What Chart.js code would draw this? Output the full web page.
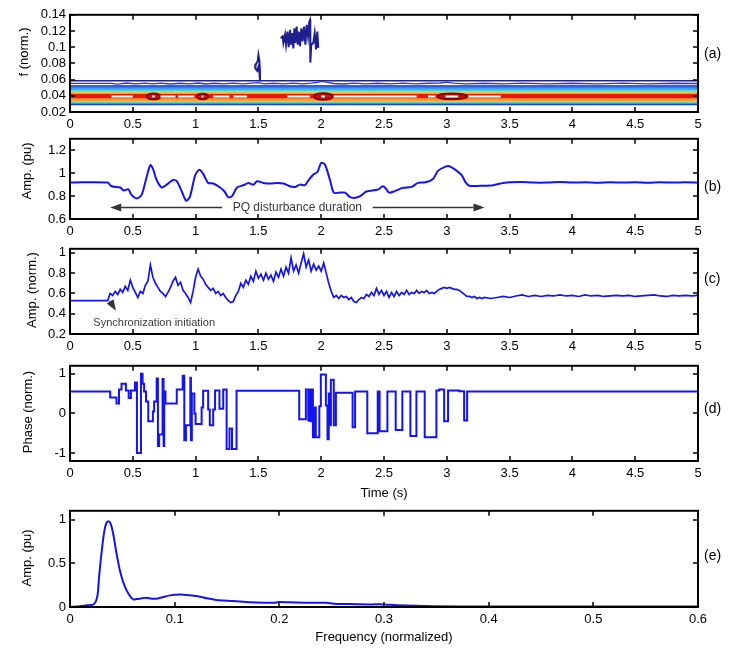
<!DOCTYPE html>
<html>
<head>
<meta charset="utf-8">
<title>PQ disturbance analysis</title>
<script src="https://cdn.jsdelivr.net/npm/chart.js@4.4.1/dist/chart.umd.min.js"></script>
<style>
  body { margin: 0; background: #fff; }
  #fig { position: relative; width: 737px; height: 648px; overflow: hidden; font-family: "Liberation Sans", Arial, sans-serif; color: #000; }
  #fig canvas { position: absolute; left: 0; }
  .tag { position: absolute; left: 704px; font-size: 14px; transform: translateY(-50%); }
  .ylab { position: absolute; font-size: 13px; white-space: nowrap; transform: translate(-50%, -50%) rotate(-90deg); }
</style>
</head>
<body>
<div id="fig">
  <canvas id="chartA" width="737" height="137" style="top:3px"></canvas>
  <canvas id="chartB" width="737" height="120" style="top:127px"></canvas>
  <canvas id="chartC" width="737" height="125" style="top:237px"></canvas>
  <canvas id="chartD" width="737" height="152" style="top:354px"></canvas>
  <canvas id="chartE" width="737" height="148" style="top:499px"></canvas>

  <div class="ylab" style="left:23px; top:52px">f (norm.)</div>
  <div class="ylab" style="left:26px; top:171px">Amp. (pu)</div>
  <div class="ylab" style="left:31px; top:290px">Amp. (norm.)</div>
  <div class="ylab" style="left:27px; top:412px">Phase (norm.)</div>
  <div class="ylab" style="left:26px; top:558px">Amp. (pu)</div>

  <div class="tag" style="top:53px">(a)</div>
  <div class="tag" style="top:186px">(b)</div>
  <div class="tag" style="top:278px">(c)</div>
  <div class="tag" style="top:408px">(d)</div>
  <div class="tag" style="top:555px">(e)</div>
</div>

<script>
const FONT = '"Liberation Sans", Arial, Helvetica, sans-serif';
Chart.defaults.font.family = FONT;
Chart.defaults.font.size = 13;
Chart.defaults.color = '#000';

// ---- tick labels ----
const timeTicks = [0, 0.5, 1, 1.5, 2, 2.5, 3, 3.5, 4, 4.5, 5];
const freqTicks = [0, 0.1, 0.2, 0.3, 0.4, 0.5, 0.6];
const aTicks = [0.02, 0.04, 0.06, 0.08, 0.1, 0.12, 0.14];
const bTicks = [0.6, 0.8, 1, 1.2];
const cTicks = [0.2, 0.4, 0.6, 0.8, 1];
const dTicks = [-1, 0, 1];
const eTicks = [0, 0.5, 1];

// ---- (a) time-frequency contour ----
const aLevels = [0.0585, 0.0518, 0.0492, 0.0474, 0.0462, 0.0452, 0.0442, 0.0352, 0.0343, 0.0334, 0.0324, 0.0314, 0.0304, 0.0293];
const aLevelColors = ['#23238c', '#2f5fe4', '#3c9cf0', '#3cd2e6', '#86e07a', '#f0e43c', '#f7a030',
  '#f7a030', '#f0e43c', '#86e07a', '#3cd2e6', '#3c9cf0', '#2f5fe4', '#23238c'];
const aLevelWidths = [1.5, 2.5, 2.5, 2, 2, 2, 3, 3, 2, 2, 2, 2, 2, 1.5];
const aRidge = 0.0396;
const aCentre = 0.0392;
const aWhiteSegs = [[0.33, 0.50], [0.72, 0.84], [0.86, 0.99], [1.14, 1.27], [1.30, 1.41], [1.73, 1.91],
  [2.10, 2.76], [2.85, 2.91], [3.17, 3.43], [0.655, 0.675], [1.048, 1.062], [2.0, 2.03], [2.99, 3.09]];
const aWaveT = [0, 0.33, 0.38, 0.45, 0.52, 0.60, 0.66, 0.72, 0.80, 0.88, 0.95, 1.02, 1.08, 1.15, 1.22, 1.30, 1.38,
  1.45, 1.50, 1.55, 1.62, 1.70, 1.78, 1.85, 1.92, 1.97, 2.01, 2.05, 2.10, 2.18, 2.26, 2.35, 2.45, 2.55, 2.65, 2.75,
  2.85, 2.95, 3.00, 3.05, 3.15, 3.3, 3.45, 3.6, 3.8, 4.0, 4.2, 4.4, 4.6, 4.8, 5.0];
const aWaveF = [0.0553, 0.0553, 0.0545, 0.0558, 0.0547, 0.0556, 0.0548, 0.0557, 0.0546, 0.0555, 0.0547, 0.0558,
  0.0546, 0.0555, 0.0548, 0.0556, 0.0547, 0.0556, 0.0562, 0.0548, 0.0555, 0.0547, 0.0556, 0.0548, 0.0557, 0.0566,
  0.0578, 0.0565, 0.0552, 0.0546, 0.0556, 0.0547, 0.0555, 0.0548, 0.0556, 0.0547, 0.0555, 0.0558, 0.0568, 0.0556,
  0.0547, 0.0555, 0.0548, 0.0556, 0.0547, 0.0555, 0.0548, 0.0556, 0.0548, 0.0555, 0.0552];
const aRings = [
  [[0.61, 0.0392], [0.625, 0.0418], [0.665, 0.0428], [0.705, 0.0418], [0.72, 0.0392], [0.705, 0.0366], [0.665, 0.0356], [0.625, 0.0366], [0.61, 0.0392]],
  [[1.01, 0.0392], [1.022, 0.0416], [1.055, 0.0426], [1.088, 0.0416], [1.10, 0.0392], [1.088, 0.0368], [1.055, 0.0358], [1.022, 0.0368], [1.01, 0.0392]],
  [[1.94, 0.0392], [1.96, 0.042], [2.015, 0.0432], [2.07, 0.042], [2.09, 0.0392], [2.07, 0.0364], [2.015, 0.0352], [1.96, 0.0364], [1.94, 0.0392]],
  [[2.92, 0.0392], [2.955, 0.0418], [3.04, 0.0428], [3.125, 0.0418], [3.16, 0.0392], [3.125, 0.0366], [3.04, 0.0356], [2.955, 0.0366], [2.92, 0.0392]],
];
const aLoopT = [1.513, 1.513, 1.508, 1.50, 1.495, 1.48, 1.475, 1.49, 1.50, 1.508, 1.513];
const aLoopF = [0.058, 0.0689, 0.083, 0.0903, 0.083, 0.079, 0.0742, 0.0709, 0.0758, 0.0689, 0.058];
const aScribT = [1.677, 1.693, 1.699, 1.712, 1.720, 1.731, 1.741, 1.752, 1.760, 1.770, 1.778, 1.786, 1.794, 1.805,
  1.813, 1.821, 1.831, 1.842, 1.852, 1.863, 1.874, 1.884, 1.895, 1.905, 1.911, 1.916, 1.911, 1.921, 1.937, 1.948,
  1.959, 1.969, 1.977];
const aScribF = [0.1113, 0.1133, 0.1052, 0.1154, 0.1032, 0.1194, 0.1000, 0.1214, 0.1032, 0.1174, 0.0984, 0.1234,
  0.1052, 0.1255, 0.1032, 0.1194, 0.1012, 0.1234, 0.1073, 0.1255, 0.1032, 0.1275, 0.1133, 0.1315, 0.1335, 0.1073,
  0.081, 0.1032, 0.1052, 0.1174, 0.0972, 0.1194, 0.0992];

// ---- (b) amplitude envelope ----
const bTime = [0, 0.30, 0.33, 0.40, 0.425, 0.465, 0.49, 0.53, 0.57, 0.61,
  0.64, 0.66, 0.69, 0.73, 0.77, 0.82, 0.85, 0.89, 0.925, 0.955,
  0.996, 1.03, 1.06, 1.10, 1.14, 1.195, 1.23, 1.26, 1.29, 1.33,
  1.38, 1.42, 1.46, 1.49, 1.54, 1.59, 1.65, 1.70, 1.75, 1.79,
  1.83, 1.87, 1.90, 1.94, 1.97, 2.00, 2.03, 2.07, 2.10, 2.14,
  2.19, 2.23, 2.27, 2.31, 2.36, 2.415, 2.455, 2.49, 2.515, 2.54,
  2.59, 2.65, 2.72, 2.77, 2.83, 2.89, 2.93, 2.99, 3.02, 3.08,
  3.12, 3.15, 3.18, 3.27, 3.37, 3.45, 3.585, 3.69, 3.80, 3.90,
  4.00, 4.10, 4.20, 4.30, 4.40, 4.50, 4.60, 4.70, 4.80, 4.90, 5.00];
const bAmp = [0.918, 0.918, 0.886, 0.875, 0.85, 0.858, 0.81, 0.78, 0.81, 0.966,
  1.07, 1.04, 0.94, 0.875, 0.90, 0.94, 0.93, 0.84, 0.76, 0.795,
  0.98, 1.03, 0.994, 0.915, 0.91, 0.875, 0.84, 0.79, 0.80, 0.875,
  0.895, 0.915, 0.90, 0.93, 0.915, 0.91, 0.915, 0.91, 0.886, 0.88,
  0.90, 0.895, 0.94, 0.99, 1.01, 1.09, 1.074, 0.94, 0.83, 0.83,
  0.83, 0.79, 0.785, 0.80, 0.84, 0.85, 0.858, 0.886, 0.866, 0.83,
  0.845, 0.872, 0.88, 0.915, 0.92, 0.95, 1.02, 1.057, 1.06, 1.02,
  0.98, 0.92, 0.89, 0.89, 0.895, 0.915, 0.923, 0.918, 0.918, 0.922,
  0.918, 0.92, 0.917, 0.92, 0.918, 0.921, 0.917, 0.92, 0.918, 0.92, 0.918];
const bNote = { text: 'PQ disturbance duration', at: [1.81, 0.70] };
const bArrows = [[[1.21, 0.70], [0.32, 0.70]], [[2.41, 0.70], [3.30, 0.70]]];

// ---- (c) synchronised amplitude ----
const cTime = [0,
  0.30, 0.32, 0.34, 0.36, 0.38, 0.40, 0.42, 0.44, 0.46, 0.48,
  0.50, 0.52, 0.54, 0.56, 0.58, 0.60, 0.62, 0.64, 0.66, 0.68,
  0.70, 0.72, 0.74, 0.76, 0.78, 0.80, 0.82, 0.84, 0.86, 0.88,
  0.90, 0.92, 0.94, 0.96, 0.98, 1.00, 1.02, 1.04, 1.06, 1.08,
  1.10, 1.12, 1.14, 1.16, 1.18, 1.20, 1.22, 1.24, 1.26, 1.28,
  1.30, 1.32, 1.34, 1.36, 1.38, 1.40, 1.42, 1.44, 1.46, 1.48,
  1.50, 1.52, 1.54, 1.56, 1.58, 1.60, 1.62, 1.64, 1.66, 1.68,
  1.70, 1.72, 1.74, 1.76, 1.78, 1.80, 1.82, 1.84, 1.86, 1.88,
  1.90, 1.92, 1.94, 1.96, 1.98, 2.00, 2.02, 2.04, 2.06, 2.08,
  2.10, 2.12, 2.14, 2.16, 2.18, 2.20, 2.22, 2.24, 2.26, 2.28,
  2.30, 2.32, 2.34, 2.36, 2.38, 2.40, 2.42, 2.44, 2.46, 2.48,
  2.50, 2.52, 2.54, 2.56, 2.58, 2.60, 2.62, 2.64, 2.66, 2.68,
  2.70, 2.72, 2.74, 2.76, 2.78, 2.80, 2.82, 2.84, 2.86, 2.88,
  2.90, 2.92, 2.94, 2.96, 2.98, 3.00, 3.02, 3.04, 3.06, 3.08,
  3.10, 3.12, 3.14, 3.16, 3.18, 3.20, 3.22, 3.24, 3.26, 3.28,
  3.30,
  3.35, 3.40, 3.45, 3.50, 3.55, 3.60, 3.65, 3.70, 3.75, 3.80,
  3.85, 3.90, 3.95, 4.00, 4.05, 4.10, 4.15, 4.20, 4.25, 4.30,
  4.35, 4.40, 4.45, 4.50, 4.55, 4.60, 4.65, 4.70, 4.75, 4.80,
  4.85, 4.90, 4.95, 5.00];
const cAmp = [0.53,
  0.53, 0.60, 0.58, 0.62, 0.59, 0.64, 0.61, 0.67, 0.63, 0.73,
  0.66, 0.61, 0.56, 0.62, 0.60, 0.68, 0.72, 0.88, 0.76, 0.70,
  0.66, 0.62, 0.60, 0.57, 0.61, 0.66, 0.72, 0.76, 0.68, 0.71,
  0.63, 0.60, 0.56, 0.51, 0.62, 0.76, 0.84, 0.77, 0.74, 0.69,
  0.66, 0.63, 0.65, 0.60, 0.62, 0.58, 0.60, 0.56, 0.53, 0.51,
  0.52, 0.58, 0.62, 0.70, 0.66, 0.73, 0.69, 0.77, 0.72, 0.82,
  0.75, 0.79, 0.73, 0.80, 0.74, 0.78, 0.72, 0.81, 0.76, 0.84,
  0.77, 0.86, 0.80, 0.95, 0.82, 0.88, 0.80, 0.90, 0.99, 0.86,
  0.93, 0.82, 0.89, 0.83, 0.87, 0.82, 0.90, 0.80, 0.70, 0.62,
  0.56, 0.58, 0.55, 0.58, 0.56, 0.57, 0.54, 0.56, 0.52, 0.51,
  0.54, 0.56, 0.55, 0.59, 0.57, 0.61, 0.58, 0.65, 0.59, 0.63,
  0.58, 0.62, 0.56, 0.61, 0.57, 0.62, 0.58, 0.61, 0.59, 0.63,
  0.59, 0.61, 0.60, 0.63, 0.60, 0.62, 0.61, 0.63, 0.60, 0.61,
  0.60, 0.62, 0.64, 0.65, 0.66, 0.65, 0.66, 0.65, 0.64, 0.64,
  0.63, 0.61, 0.59, 0.57, 0.57, 0.56, 0.57, 0.55, 0.56, 0.55,
  0.56,
  0.55, 0.56, 0.57, 0.56, 0.575, 0.585, 0.57, 0.58, 0.57, 0.58,
  0.575, 0.585, 0.575, 0.58, 0.57, 0.585, 0.575, 0.58, 0.57, 0.575,
  0.58, 0.575, 0.58, 0.57, 0.575, 0.58, 0.585, 0.575, 0.57, 0.58,
  0.575, 0.58, 0.575, 0.58];
const cNote = { text: 'Synchronization initiation', at: [0.67, 0.31] };
const cArrows = [[[0.318, 0.526], [0.366, 0.43]]];

// ---- (d) phase ----
const dTime = [0, 0.32, 0.37, 0.39, 0.41, 0.445, 0.467, 0.485, 0.517, 0.533,
  0.565, 0.578, 0.59, 0.605, 0.623, 0.66, 0.67, 0.69, 0.70, 0.71,
  0.737, 0.745, 0.75, 0.76, 0.85, 0.897, 0.91, 0.923, 0.958, 0.963,
  0.97, 0.99, 1.00, 1.048, 1.06, 1.10, 1.113, 1.14, 1.155, 1.19,
  1.22, 1.247, 1.27, 1.29, 1.326, 1.825, 1.878, 1.897, 1.907, 1.915,
  1.923, 1.934, 1.945, 1.957, 1.985, 1.997, 2.037, 2.05, 2.06, 2.07,
  2.077, 2.10, 2.117, 2.25, 2.27, 2.367, 2.45, 2.465, 2.527, 2.593,
  2.646, 2.71, 2.758, 2.824, 2.917, 2.94, 2.979, 3.01, 3.10, 3.138,
  3.162, 5.00];
const dPhase = [0.55, 0.40, 0.25, 0.60, 0.75, 0.58, 0.39, 0.58, 0.78, -1.0,
  1.0, 0.75, 0.55, 0.30, -0.20, 0.05, 0.30, 0.88, -0.82, -0.53,
  0.87, -0.82, 0.55, 0.25, 0.60, 0.95, -0.68, -0.30, 0.90, -0.68,
  0.50, 0.00, -0.27, 0.15, 0.57, 0.10, -0.30, 0.10, 0.58, 0.12,
  0.60, -0.90, -0.38, -0.90, 0.57, -0.15, 0.60, -0.18, 0.60, -0.20,
  0.60, -0.60, 0.15, -0.60, 0.18, 0.98, 0.20, -0.65, 0.50, -0.30,
  0.85, -0.30, 0.52, -0.35, 0.55, -0.50, 0.55, -0.45, 0.55, -0.42,
  0.55, -0.57, 0.55, -0.60, 0.58, 0.60, -0.20, 0.58, 0.56, -0.18,
  0.55, 0.55];

// ---- (e) spectrum ----
const eFreq = [0, 0.0096, 0.016, 0.022, 0.0248, 0.0264, 0.028, 0.0303, 0.0325, 0.0344,
  0.0366, 0.0389, 0.0414, 0.0446, 0.0478, 0.051, 0.0541, 0.0573, 0.0605, 0.0637,
  0.0685, 0.0732, 0.078, 0.0828, 0.0892, 0.0955, 0.105, 0.111, 0.121, 0.1306,
  0.14, 0.156, 0.172, 0.188, 0.196, 0.2, 0.21, 0.226, 0.245, 0.252,
  0.267, 0.287, 0.299, 0.312, 0.347, 0.40, 0.50, 0.60];
const eAmp = [0, 0.008, 0.019, 0.027, 0.068, 0.144, 0.373, 0.639, 0.848, 0.951,
  0.981, 0.951, 0.829, 0.601, 0.411, 0.278, 0.19, 0.125, 0.087, 0.091,
  0.099, 0.106, 0.095, 0.095, 0.114, 0.133, 0.144, 0.137, 0.125, 0.099,
  0.08, 0.068, 0.053, 0.049, 0.05, 0.057, 0.053, 0.049, 0.049, 0.038,
  0.034, 0.03, 0.03, 0.019, 0.008, 0.005, 0.005, 0.005];

const BLUE = '#1414f0';
const pts = (xs, ys) => xs.map((x, i) => ({ x, y: ys[i] }));
const hline = (y, x0, x1) => [{ x: x0, y }, { x: x1, y }];

// MATLAB-style box with inward ticks on all four sides
const boxPlugin = {
  id: 'box',
  afterDraw(chart) {
    const { ctx, chartArea: a, scales: { x, y } } = chart;
    ctx.save();
    ctx.strokeStyle = '#000';
    ctx.lineWidth = 1.5;
    ctx.beginPath();
    x.ticks.forEach((t) => {
      const p = Math.round(x.getPixelForValue(t.value));
      ctx.moveTo(p, a.bottom); ctx.lineTo(p, a.bottom - 5);
      ctx.moveTo(p, a.top); ctx.lineTo(p, a.top + 5);
    });
    y.ticks.forEach((t) => {
      const p = Math.round(y.getPixelForValue(t.value));
      ctx.moveTo(a.left, p); ctx.lineTo(a.left + 5, p);
      ctx.moveTo(a.right, p); ctx.lineTo(a.right - 5, p);
    });
    ctx.stroke();
    ctx.lineWidth = 2;
    ctx.strokeRect(a.left, a.top, a.right - a.left, a.bottom - a.top);
    ctx.restore();
  },
};

// grey arrows and captions placed in data units
const notePlugin = {
  id: 'notes',
  afterDatasetsDraw(chart, args, opts) {
    const { ctx, scales: { x, y } } = chart;
    const px = (p) => [x.getPixelForValue(p[0]), y.getPixelForValue(p[1])];
    ctx.save();
    ctx.strokeStyle = '#333';
    ctx.fillStyle = '#333';
    ctx.lineWidth = 1.5;
    (opts.arrows || []).forEach(([from, to]) => {
      const [x0, y0] = px(from);
      const [x1, y1] = px(to);
      const ang = Math.atan2(y1 - y0, x1 - x0);
      const bx = x1 - 11 * Math.cos(ang);
      const by = y1 - 11 * Math.sin(ang);
      ctx.beginPath(); ctx.moveTo(x0, y0); ctx.lineTo(bx, by); ctx.stroke();
      ctx.beginPath();
      ctx.moveTo(x1, y1);
      ctx.lineTo(bx + 4 * Math.sin(ang), by - 4 * Math.cos(ang));
      ctx.lineTo(bx - 4 * Math.sin(ang), by + 4 * Math.cos(ang));
      ctx.closePath();
      ctx.fill();
    });
    if (opts.text) {
      const [tx, ty] = px(opts.at);
      ctx.fillStyle = '#3a3a3a';
      ctx.font = `${opts.size || 12}px ${FONT}`;
      ctx.textAlign = 'center';
      ctx.textBaseline = 'middle';
      ctx.fillText(opts.text, tx, ty);
    }
    ctx.restore();
  },
};

function panel(id, o) {
  return new Chart(document.getElementById(id), {
    type: 'line',
    data: { datasets: o.datasets },
    options: {
      responsive: false,
      animation: false,
      events: [],
      devicePixelRatio: 1,
      layout: { padding: { top: 10, right: 39, left: 0, bottom: 0 } },
      elements: { point: { radius: 0 } },
      plugins: { legend: { display: false }, tooltip: { enabled: false }, notes: o.notes || {} },
      scales: {
        x: {
          type: 'linear',
          min: o.xTicks[0],
          max: o.xTicks[o.xTicks.length - 1],
          afterBuildTicks: (s) => { s.ticks = o.xTicks.map((v) => ({ value: v })); },
          afterFit: (s) => { s.height = o.xHeight; },
          grid: { display: false, drawTicks: false },
          border: { display: false },
          ticks: { padding: 5, maxRotation: 0, autoSkip: false, callback: (v) => String(v) },
          title: { display: !!o.xTitle, text: o.xTitle || '', padding: { top: 0, bottom: o.xTitlePad || 5 } },
        },
        y: {
          type: 'linear',
          min: o.yMin,
          max: o.yMax,
          afterBuildTicks: (s) => { s.ticks = o.yTicks.map((v) => ({ value: v })); },
          afterFit: (s) => { s.width = 70; },
          grid: { display: false, drawTicks: false },
          border: { display: false },
          ticks: { padding: 4, autoSkip: false, callback: (v) => String(v) },
        },
      },
    },
    plugins: [boxPlugin, notePlugin],
  });
}

// (a): drawn top layer first
const aSets = [
  { data: pts(aScribT, aScribF), borderColor: '#1f1f8f', borderWidth: 2, tension: 0 },
  { data: pts(aLoopT, aLoopF), borderColor: '#1f1f8f', borderWidth: 2, tension: 0 },
  {
    data: aWhiteSegs.flatMap(([s, e]) => [{ x: s, y: aCentre }, { x: e, y: aCentre }, { x: e, y: null }]),
    borderColor: '#ffffff', borderWidth: 2, spanGaps: false,
  },
  ...aRings.map((r) => ({
    data: r.map(([x, y]) => ({ x, y })), borderColor: '#820000', borderWidth: 2,
    backgroundColor: '#d41010', fill: 'shape', tension: 0.4,
  })),
  { data: pts(aWaveT, aWaveF), borderColor: '#2c3fc4', borderWidth: 1.3 },
  ...aLevels.map((f, i) => ({ data: hline(f, 0, 5), borderColor: aLevelColors[i], borderWidth: aLevelWidths[i] })),
  { data: hline(aRidge, 0, 5), borderColor: '#e8180e', borderWidth: 7 },
];

panel('chartA', { datasets: aSets, xTicks: timeTicks, yTicks: aTicks, yMin: 0.02, yMax: 0.14, xHeight: 28 });

panel('chartB', {
  datasets: [{ data: pts(bTime, bAmp), borderColor: BLUE, borderWidth: 2, tension: 0.3 }],
  xTicks: timeTicks, yTicks: bTicks, yMin: 0.6, yMax: 1.3, xHeight: 28,
  notes: { text: bNote.text, at: bNote.at, arrows: bArrows, size: 12 },
});

panel('chartC', {
  datasets: [{ data: pts(cTime, cAmp), borderColor: BLUE, borderWidth: 1.7, tension: 0 }],
  xTicks: timeTicks, yTicks: cTicks, yMin: 0.2, yMax: 1.04, xHeight: 28,
  notes: { text: cNote.text, at: cNote.at, arrows: cArrows, size: 11 },
});

panel('chartD', {
  datasets: [{ data: pts(dTime, dPhase), borderColor: BLUE, borderWidth: 2, stepped: true }],
  xTicks: timeTicks, yTicks: dTicks, yMin: -1.2, yMax: 1.2, xHeight: 45, xTitle: 'Time (s)',
});

panel('chartE', {
  datasets: [{ data: pts(eFreq, eAmp), borderColor: BLUE, borderWidth: 2, tension: 0.3 }],
  xTicks: freqTicks, yTicks: eTicks, yMin: 0, yMax: 1.1, xHeight: 40, xTitle: 'Frequency (normalized)', xTitlePad: 2,
});
</script>
</body>
</html>
